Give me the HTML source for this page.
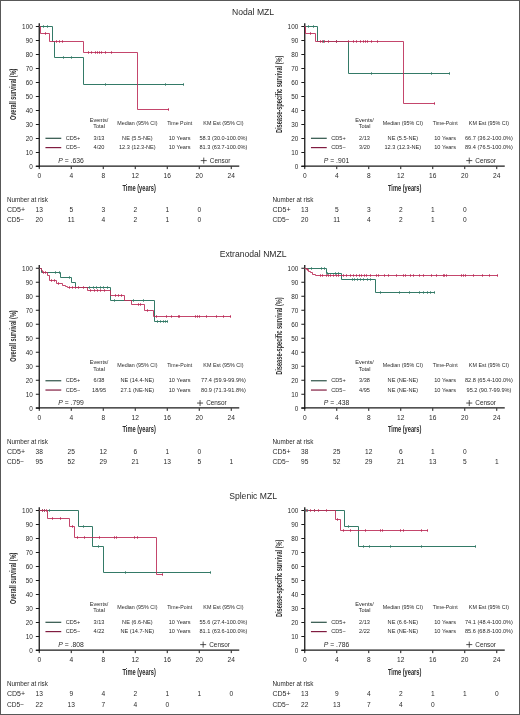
<!DOCTYPE html>
<html><head><meta charset="utf-8"><style>
html,body{margin:0;padding:0;background:#fff;}
body{width:520px;height:715px;overflow:hidden;position:relative;}
svg{display:block;font-family:"Liberation Sans", sans-serif;filter:blur(0.3px);}
</style></head><body>
<svg width="520" height="715" viewBox="0 0 520 715">
<rect x="0" y="0" width="520" height="715" fill="#fff"/>
<text x="253.10" y="15.40" font-size="8.6" text-anchor="middle" fill="#2a2a2a" >Nodal MZL</text>
<line x1="39.25" y1="23.20" x2="39.25" y2="167.15" stroke="#1a1a1a" stroke-width="1.3"/>
<line x1="35.85" y1="166.50" x2="39.25" y2="166.50" stroke="#1a1a1a" stroke-width="1"/>
<text x="32.75" y="169.00" font-size="6.4" text-anchor="end" fill="#2a2a2a" >0</text>
<line x1="35.85" y1="152.50" x2="39.25" y2="152.50" stroke="#1a1a1a" stroke-width="1"/>
<text x="32.75" y="155.00" font-size="6.4" text-anchor="end" fill="#2a2a2a" >10</text>
<line x1="35.85" y1="138.50" x2="39.25" y2="138.50" stroke="#1a1a1a" stroke-width="1"/>
<text x="32.75" y="141.00" font-size="6.4" text-anchor="end" fill="#2a2a2a" >20</text>
<line x1="35.85" y1="124.50" x2="39.25" y2="124.50" stroke="#1a1a1a" stroke-width="1"/>
<text x="32.75" y="127.00" font-size="6.4" text-anchor="end" fill="#2a2a2a" >30</text>
<line x1="35.85" y1="110.50" x2="39.25" y2="110.50" stroke="#1a1a1a" stroke-width="1"/>
<text x="32.75" y="113.00" font-size="6.4" text-anchor="end" fill="#2a2a2a" >40</text>
<line x1="35.85" y1="96.50" x2="39.25" y2="96.50" stroke="#1a1a1a" stroke-width="1"/>
<text x="32.75" y="99.00" font-size="6.4" text-anchor="end" fill="#2a2a2a" >50</text>
<line x1="35.85" y1="82.50" x2="39.25" y2="82.50" stroke="#1a1a1a" stroke-width="1"/>
<text x="32.75" y="85.00" font-size="6.4" text-anchor="end" fill="#2a2a2a" >60</text>
<line x1="35.85" y1="68.50" x2="39.25" y2="68.50" stroke="#1a1a1a" stroke-width="1"/>
<text x="32.75" y="71.00" font-size="6.4" text-anchor="end" fill="#2a2a2a" >70</text>
<line x1="35.85" y1="54.50" x2="39.25" y2="54.50" stroke="#1a1a1a" stroke-width="1"/>
<text x="32.75" y="57.00" font-size="6.4" text-anchor="end" fill="#2a2a2a" >80</text>
<line x1="35.85" y1="40.50" x2="39.25" y2="40.50" stroke="#1a1a1a" stroke-width="1"/>
<text x="32.75" y="43.00" font-size="6.4" text-anchor="end" fill="#2a2a2a" >90</text>
<line x1="35.85" y1="26.50" x2="39.25" y2="26.50" stroke="#1a1a1a" stroke-width="1"/>
<text x="32.75" y="29.00" font-size="6.4" text-anchor="end" fill="#2a2a2a" >100</text>
<line x1="35.85" y1="166.15" x2="239.25" y2="166.15" stroke="#1a1a1a" stroke-width="1.3"/>
<line x1="39.25" y1="166.50" x2="39.25" y2="169.10" stroke="#1a1a1a" stroke-width="1"/>
<text x="39.25" y="178.10" font-size="6.6" text-anchor="middle" fill="#2a2a2a" >0</text>
<line x1="71.25" y1="166.50" x2="71.25" y2="169.10" stroke="#1a1a1a" stroke-width="1"/>
<text x="71.25" y="178.10" font-size="6.6" text-anchor="middle" fill="#2a2a2a" >4</text>
<line x1="103.25" y1="166.50" x2="103.25" y2="169.10" stroke="#1a1a1a" stroke-width="1"/>
<text x="103.25" y="178.10" font-size="6.6" text-anchor="middle" fill="#2a2a2a" >8</text>
<line x1="135.25" y1="166.50" x2="135.25" y2="169.10" stroke="#1a1a1a" stroke-width="1"/>
<text x="135.25" y="178.10" font-size="6.6" text-anchor="middle" fill="#2a2a2a" >12</text>
<line x1="167.25" y1="166.50" x2="167.25" y2="169.10" stroke="#1a1a1a" stroke-width="1"/>
<text x="167.25" y="178.10" font-size="6.6" text-anchor="middle" fill="#2a2a2a" >16</text>
<line x1="199.25" y1="166.50" x2="199.25" y2="169.10" stroke="#1a1a1a" stroke-width="1"/>
<text x="199.25" y="178.10" font-size="6.6" text-anchor="middle" fill="#2a2a2a" >20</text>
<line x1="231.25" y1="166.50" x2="231.25" y2="169.10" stroke="#1a1a1a" stroke-width="1"/>
<text x="231.25" y="178.10" font-size="6.6" text-anchor="middle" fill="#2a2a2a" >24</text>
<text x="139.15" y="190.50" font-size="9.4" text-anchor="middle" fill="#2a2a2a" textLength="33.4" lengthAdjust="spacingAndGlyphs" font-weight="bold">Time (years)</text>
<text x="16.45" y="94.30" font-size="8.4" text-anchor="middle" fill="#2a2a2a" textLength="51.5" lengthAdjust="spacingAndGlyphs" font-weight="bold" transform="rotate(-90 16.45 94.30)">Overall survival (%)</text>
<path d="M39.50,26.50 L52.50,26.50 L52.50,41.50 L54.50,41.50 L54.50,57.50 L83.50,57.50 L83.50,84.50 L183.50,84.50" fill="none" stroke="#347a67" stroke-width="1.0" stroke-linejoin="miter" stroke-linecap="butt" />
<path d="M39.50,26.50 L40.50,26.50 L40.50,33.50 L49.50,33.50 L49.50,41.50 L83.50,41.50 L83.50,52.50 L137.50,52.50 L137.50,109.50 L168.50,109.50" fill="none" stroke="#bc2c58" stroke-width="1.0" stroke-linejoin="miter" stroke-linecap="butt" stroke-opacity="0.88"/>
<path d="M43.50,25.35V27.65M47.50,25.35V27.65" stroke="#347a67" stroke-width="1.0" fill="none"/>
<path d="M63.50,56.35V58.65M71.50,56.35V58.65" stroke="#347a67" stroke-width="1.0" fill="none"/>
<path d="M105.50,83.35V85.65M165.50,83.35V85.65M183.50,83.35V85.65" stroke="#347a67" stroke-width="1.0" fill="none"/>
<path d="M45.50,32.35V34.65" stroke="#bc2c58" stroke-width="1.0" fill="none"/>
<path d="M56.50,40.35V42.65M59.50,40.35V42.65M62.50,40.35V42.65" stroke="#bc2c58" stroke-width="1.0" fill="none"/>
<path d="M88.50,51.35V53.65M91.50,51.35V53.65M95.50,51.35V53.65M97.50,51.35V53.65M99.50,51.35V53.65M101.50,51.35V53.65M105.50,51.35V53.65M111.50,51.35V53.65" stroke="#bc2c58" stroke-width="1.0" fill="none"/>
<path d="M168.50,108.35V110.65" stroke="#bc2c58" stroke-width="1.0" fill="none"/>
<text x="99.05" y="121.50" font-size="5.6" text-anchor="middle" fill="#2a2a2a" >Events/</text>
<text x="99.05" y="128.40" font-size="5.6" text-anchor="middle" fill="#2a2a2a" >Total</text>
<text x="137.35" y="124.50" font-size="5.6" text-anchor="middle" fill="#2a2a2a" textLength="40.2" lengthAdjust="spacingAndGlyphs" >Median (95% CI)</text>
<text x="179.65" y="124.50" font-size="5.6" text-anchor="middle" fill="#2a2a2a" textLength="25" lengthAdjust="spacingAndGlyphs" >Time Point</text>
<text x="223.45" y="124.50" font-size="5.6" text-anchor="middle" fill="#2a2a2a" textLength="40.2" lengthAdjust="spacingAndGlyphs" >KM Est (95% CI)</text>
<line x1="45.45" y1="138.30" x2="61.25" y2="138.30" stroke="#2c5247" stroke-width="1.2"/>
<text x="65.75" y="139.80" font-size="5.6" text-anchor="start" fill="#2a2a2a" >CD5+</text>
<text x="99.05" y="139.80" font-size="5.6" text-anchor="middle" fill="#2a2a2a" >3/13</text>
<text x="137.35" y="139.80" font-size="5.6" text-anchor="middle" fill="#2a2a2a" >NE (5.5-NE)</text>
<text x="179.65" y="139.80" font-size="5.6" text-anchor="middle" fill="#2a2a2a" >10 Years</text>
<text x="223.45" y="139.80" font-size="5.6" text-anchor="middle" fill="#2a2a2a" >58.3 (30.0-100.0%)</text>
<line x1="45.45" y1="147.60" x2="61.25" y2="147.60" stroke="#801c40" stroke-width="1.2"/>
<text x="65.75" y="149.20" font-size="5.6" text-anchor="start" fill="#2a2a2a" >CD5−</text>
<text x="99.05" y="149.20" font-size="5.6" text-anchor="middle" fill="#2a2a2a" >4/20</text>
<text x="137.35" y="149.20" font-size="5.6" text-anchor="middle" fill="#2a2a2a" >12.3 (12.3-NE)</text>
<text x="179.65" y="149.20" font-size="5.6" text-anchor="middle" fill="#2a2a2a" >10 Years</text>
<text x="223.45" y="149.20" font-size="5.6" text-anchor="middle" fill="#2a2a2a" >81.3 (63.7-100.0%)</text>
<text x="58.25" y="162.80" font-size="6.8" fill="#2a2a2a"><tspan font-style="italic">P</tspan> = .636</text>
<line x1="200.75" y1="160.60" x2="206.75" y2="160.60" stroke="#2a2a2a" stroke-width="0.8"/>
<line x1="203.75" y1="157.60" x2="203.75" y2="163.60" stroke="#2a2a2a" stroke-width="0.8"/>
<text x="209.85" y="162.70" font-size="6.4" text-anchor="start" fill="#2a2a2a" >Censor</text>
<text x="6.95" y="201.50" font-size="6.3" text-anchor="start" fill="#2a2a2a" >Number at risk</text>
<text x="6.95" y="211.80" font-size="6.6" text-anchor="start" fill="#2a2a2a" textLength="18.2" lengthAdjust="spacingAndGlyphs" >CD5+</text>
<text x="6.95" y="222.20" font-size="6.6" text-anchor="start" fill="#2a2a2a" >CD5−</text>
<text x="39.25" y="211.80" font-size="6.6" text-anchor="middle" fill="#2a2a2a" >13</text>
<text x="71.25" y="211.80" font-size="6.6" text-anchor="middle" fill="#2a2a2a" >5</text>
<text x="103.25" y="211.80" font-size="6.6" text-anchor="middle" fill="#2a2a2a" >3</text>
<text x="135.25" y="211.80" font-size="6.6" text-anchor="middle" fill="#2a2a2a" >2</text>
<text x="167.25" y="211.80" font-size="6.6" text-anchor="middle" fill="#2a2a2a" >1</text>
<text x="199.25" y="211.80" font-size="6.6" text-anchor="middle" fill="#2a2a2a" >0</text>
<text x="39.25" y="222.20" font-size="6.6" text-anchor="middle" fill="#2a2a2a" >20</text>
<text x="71.25" y="222.20" font-size="6.6" text-anchor="middle" fill="#2a2a2a" >11</text>
<text x="103.25" y="222.20" font-size="6.6" text-anchor="middle" fill="#2a2a2a" >4</text>
<text x="135.25" y="222.20" font-size="6.6" text-anchor="middle" fill="#2a2a2a" >2</text>
<text x="167.25" y="222.20" font-size="6.6" text-anchor="middle" fill="#2a2a2a" >1</text>
<text x="199.25" y="222.20" font-size="6.6" text-anchor="middle" fill="#2a2a2a" >0</text>
<line x1="304.75" y1="23.20" x2="304.75" y2="167.15" stroke="#1a1a1a" stroke-width="1.3"/>
<line x1="301.35" y1="166.50" x2="304.75" y2="166.50" stroke="#1a1a1a" stroke-width="1"/>
<text x="298.25" y="169.00" font-size="6.4" text-anchor="end" fill="#2a2a2a" >0</text>
<line x1="301.35" y1="152.50" x2="304.75" y2="152.50" stroke="#1a1a1a" stroke-width="1"/>
<text x="298.25" y="155.00" font-size="6.4" text-anchor="end" fill="#2a2a2a" >10</text>
<line x1="301.35" y1="138.50" x2="304.75" y2="138.50" stroke="#1a1a1a" stroke-width="1"/>
<text x="298.25" y="141.00" font-size="6.4" text-anchor="end" fill="#2a2a2a" >20</text>
<line x1="301.35" y1="124.50" x2="304.75" y2="124.50" stroke="#1a1a1a" stroke-width="1"/>
<text x="298.25" y="127.00" font-size="6.4" text-anchor="end" fill="#2a2a2a" >30</text>
<line x1="301.35" y1="110.50" x2="304.75" y2="110.50" stroke="#1a1a1a" stroke-width="1"/>
<text x="298.25" y="113.00" font-size="6.4" text-anchor="end" fill="#2a2a2a" >40</text>
<line x1="301.35" y1="96.50" x2="304.75" y2="96.50" stroke="#1a1a1a" stroke-width="1"/>
<text x="298.25" y="99.00" font-size="6.4" text-anchor="end" fill="#2a2a2a" >50</text>
<line x1="301.35" y1="82.50" x2="304.75" y2="82.50" stroke="#1a1a1a" stroke-width="1"/>
<text x="298.25" y="85.00" font-size="6.4" text-anchor="end" fill="#2a2a2a" >60</text>
<line x1="301.35" y1="68.50" x2="304.75" y2="68.50" stroke="#1a1a1a" stroke-width="1"/>
<text x="298.25" y="71.00" font-size="6.4" text-anchor="end" fill="#2a2a2a" >70</text>
<line x1="301.35" y1="54.50" x2="304.75" y2="54.50" stroke="#1a1a1a" stroke-width="1"/>
<text x="298.25" y="57.00" font-size="6.4" text-anchor="end" fill="#2a2a2a" >80</text>
<line x1="301.35" y1="40.50" x2="304.75" y2="40.50" stroke="#1a1a1a" stroke-width="1"/>
<text x="298.25" y="43.00" font-size="6.4" text-anchor="end" fill="#2a2a2a" >90</text>
<line x1="301.35" y1="26.50" x2="304.75" y2="26.50" stroke="#1a1a1a" stroke-width="1"/>
<text x="298.25" y="29.00" font-size="6.4" text-anchor="end" fill="#2a2a2a" >100</text>
<line x1="301.35" y1="166.15" x2="504.75" y2="166.15" stroke="#1a1a1a" stroke-width="1.3"/>
<line x1="304.75" y1="166.50" x2="304.75" y2="169.10" stroke="#1a1a1a" stroke-width="1"/>
<text x="304.75" y="178.10" font-size="6.6" text-anchor="middle" fill="#2a2a2a" >0</text>
<line x1="336.75" y1="166.50" x2="336.75" y2="169.10" stroke="#1a1a1a" stroke-width="1"/>
<text x="336.75" y="178.10" font-size="6.6" text-anchor="middle" fill="#2a2a2a" >4</text>
<line x1="368.75" y1="166.50" x2="368.75" y2="169.10" stroke="#1a1a1a" stroke-width="1"/>
<text x="368.75" y="178.10" font-size="6.6" text-anchor="middle" fill="#2a2a2a" >8</text>
<line x1="400.75" y1="166.50" x2="400.75" y2="169.10" stroke="#1a1a1a" stroke-width="1"/>
<text x="400.75" y="178.10" font-size="6.6" text-anchor="middle" fill="#2a2a2a" >12</text>
<line x1="432.75" y1="166.50" x2="432.75" y2="169.10" stroke="#1a1a1a" stroke-width="1"/>
<text x="432.75" y="178.10" font-size="6.6" text-anchor="middle" fill="#2a2a2a" >16</text>
<line x1="464.75" y1="166.50" x2="464.75" y2="169.10" stroke="#1a1a1a" stroke-width="1"/>
<text x="464.75" y="178.10" font-size="6.6" text-anchor="middle" fill="#2a2a2a" >20</text>
<line x1="496.75" y1="166.50" x2="496.75" y2="169.10" stroke="#1a1a1a" stroke-width="1"/>
<text x="496.75" y="178.10" font-size="6.6" text-anchor="middle" fill="#2a2a2a" >24</text>
<text x="404.65" y="190.50" font-size="9.4" text-anchor="middle" fill="#2a2a2a" textLength="33.4" lengthAdjust="spacingAndGlyphs" font-weight="bold">Time (years)</text>
<text x="281.55" y="94.30" font-size="8.4" text-anchor="middle" fill="#2a2a2a" textLength="77.5" lengthAdjust="spacingAndGlyphs" font-weight="bold" transform="rotate(-90 281.55 94.30)">Disease-specific survival (%)</text>
<path d="M304.50,26.50 L317.50,26.50 L317.50,41.50 L348.50,41.50 L348.50,73.50 L449.50,73.50" fill="none" stroke="#347a67" stroke-width="1.0" stroke-linejoin="miter" stroke-linecap="butt" />
<path d="M304.50,26.50 L305.50,26.50 L305.50,33.50 L315.50,33.50 L315.50,41.50 L403.50,41.50 L403.50,103.50 L434.50,103.50" fill="none" stroke="#bc2c58" stroke-width="1.0" stroke-linejoin="miter" stroke-linecap="butt" stroke-opacity="0.88"/>
<path d="M308.50,25.35V27.65M313.50,25.35V27.65" stroke="#347a67" stroke-width="1.0" fill="none"/>
<path d="M323.50,40.35V42.65M336.50,40.35V42.65" stroke="#347a67" stroke-width="1.0" fill="none"/>
<path d="M371.50,72.35V74.65M431.50,72.35V74.65M449.50,72.35V74.65" stroke="#347a67" stroke-width="1.0" fill="none"/>
<path d="M310.50,32.35V34.65" stroke="#bc2c58" stroke-width="1.0" fill="none"/>
<path d="M320.50,40.35V42.65M322.50,40.35V42.65M324.50,40.35V42.65M328.50,40.35V42.65M336.50,40.35V42.65M348.50,40.35V42.65M353.50,40.35V42.65M356.50,40.35V42.65M360.50,40.35V42.65M363.50,40.35V42.65M365.50,40.35V42.65M367.50,40.35V42.65M371.50,40.35V42.65M377.50,40.35V42.65" stroke="#bc2c58" stroke-width="1.0" fill="none"/>
<path d="M434.50,102.35V104.65" stroke="#bc2c58" stroke-width="1.0" fill="none"/>
<text x="364.55" y="121.50" font-size="5.6" text-anchor="middle" fill="#2a2a2a" >Events/</text>
<text x="364.55" y="128.40" font-size="5.6" text-anchor="middle" fill="#2a2a2a" >Total</text>
<text x="402.85" y="124.50" font-size="5.6" text-anchor="middle" fill="#2a2a2a" textLength="40.2" lengthAdjust="spacingAndGlyphs" >Median (95% CI)</text>
<text x="445.15" y="124.50" font-size="5.6" text-anchor="middle" fill="#2a2a2a" textLength="25" lengthAdjust="spacingAndGlyphs" >Time-Point</text>
<text x="488.95" y="124.50" font-size="5.6" text-anchor="middle" fill="#2a2a2a" textLength="40.2" lengthAdjust="spacingAndGlyphs" >KM Est (95% CI)</text>
<line x1="310.95" y1="138.30" x2="326.75" y2="138.30" stroke="#2c5247" stroke-width="1.2"/>
<text x="331.25" y="139.80" font-size="5.6" text-anchor="start" fill="#2a2a2a" >CD5+</text>
<text x="364.55" y="139.80" font-size="5.6" text-anchor="middle" fill="#2a2a2a" >2/13</text>
<text x="402.85" y="139.80" font-size="5.6" text-anchor="middle" fill="#2a2a2a" >NE (5.5-NE)</text>
<text x="445.15" y="139.80" font-size="5.6" text-anchor="middle" fill="#2a2a2a" >10 Years</text>
<text x="488.95" y="139.80" font-size="5.6" text-anchor="middle" fill="#2a2a2a" >66.7 (36.2-100.0%)</text>
<line x1="310.95" y1="147.60" x2="326.75" y2="147.60" stroke="#801c40" stroke-width="1.2"/>
<text x="331.25" y="149.20" font-size="5.6" text-anchor="start" fill="#2a2a2a" >CD5−</text>
<text x="364.55" y="149.20" font-size="5.6" text-anchor="middle" fill="#2a2a2a" >3/20</text>
<text x="402.85" y="149.20" font-size="5.6" text-anchor="middle" fill="#2a2a2a" >12.3 (12.3-NE)</text>
<text x="445.15" y="149.20" font-size="5.6" text-anchor="middle" fill="#2a2a2a" >10 Years</text>
<text x="488.95" y="149.20" font-size="5.6" text-anchor="middle" fill="#2a2a2a" >89.4 (76.5-100.0%)</text>
<text x="323.75" y="162.80" font-size="6.8" fill="#2a2a2a"><tspan font-style="italic">P</tspan> = .901</text>
<line x1="466.25" y1="160.60" x2="472.25" y2="160.60" stroke="#2a2a2a" stroke-width="0.8"/>
<line x1="469.25" y1="157.60" x2="469.25" y2="163.60" stroke="#2a2a2a" stroke-width="0.8"/>
<text x="475.35" y="162.70" font-size="6.4" text-anchor="start" fill="#2a2a2a" >Censor</text>
<text x="272.45" y="201.50" font-size="6.3" text-anchor="start" fill="#2a2a2a" >Number at risk</text>
<text x="272.45" y="211.80" font-size="6.6" text-anchor="start" fill="#2a2a2a" textLength="18.2" lengthAdjust="spacingAndGlyphs" >CD5+</text>
<text x="272.45" y="222.20" font-size="6.6" text-anchor="start" fill="#2a2a2a" >CD5−</text>
<text x="304.75" y="211.80" font-size="6.6" text-anchor="middle" fill="#2a2a2a" >13</text>
<text x="336.75" y="211.80" font-size="6.6" text-anchor="middle" fill="#2a2a2a" >5</text>
<text x="368.75" y="211.80" font-size="6.6" text-anchor="middle" fill="#2a2a2a" >3</text>
<text x="400.75" y="211.80" font-size="6.6" text-anchor="middle" fill="#2a2a2a" >2</text>
<text x="432.75" y="211.80" font-size="6.6" text-anchor="middle" fill="#2a2a2a" >1</text>
<text x="464.75" y="211.80" font-size="6.6" text-anchor="middle" fill="#2a2a2a" >0</text>
<text x="304.75" y="222.20" font-size="6.6" text-anchor="middle" fill="#2a2a2a" >20</text>
<text x="336.75" y="222.20" font-size="6.6" text-anchor="middle" fill="#2a2a2a" >11</text>
<text x="368.75" y="222.20" font-size="6.6" text-anchor="middle" fill="#2a2a2a" >4</text>
<text x="400.75" y="222.20" font-size="6.6" text-anchor="middle" fill="#2a2a2a" >2</text>
<text x="432.75" y="222.20" font-size="6.6" text-anchor="middle" fill="#2a2a2a" >1</text>
<text x="464.75" y="222.20" font-size="6.6" text-anchor="middle" fill="#2a2a2a" >0</text>
<text x="253.10" y="257.15" font-size="8.6" text-anchor="middle" fill="#2a2a2a" >Extranodal NMZL</text>
<line x1="39.25" y1="264.95" x2="39.25" y2="408.90" stroke="#1a1a1a" stroke-width="1.3"/>
<line x1="35.85" y1="408.25" x2="39.25" y2="408.25" stroke="#1a1a1a" stroke-width="1"/>
<text x="32.75" y="410.75" font-size="6.4" text-anchor="end" fill="#2a2a2a" >0</text>
<line x1="35.85" y1="394.25" x2="39.25" y2="394.25" stroke="#1a1a1a" stroke-width="1"/>
<text x="32.75" y="396.75" font-size="6.4" text-anchor="end" fill="#2a2a2a" >10</text>
<line x1="35.85" y1="380.25" x2="39.25" y2="380.25" stroke="#1a1a1a" stroke-width="1"/>
<text x="32.75" y="382.75" font-size="6.4" text-anchor="end" fill="#2a2a2a" >20</text>
<line x1="35.85" y1="366.25" x2="39.25" y2="366.25" stroke="#1a1a1a" stroke-width="1"/>
<text x="32.75" y="368.75" font-size="6.4" text-anchor="end" fill="#2a2a2a" >30</text>
<line x1="35.85" y1="352.25" x2="39.25" y2="352.25" stroke="#1a1a1a" stroke-width="1"/>
<text x="32.75" y="354.75" font-size="6.4" text-anchor="end" fill="#2a2a2a" >40</text>
<line x1="35.85" y1="338.25" x2="39.25" y2="338.25" stroke="#1a1a1a" stroke-width="1"/>
<text x="32.75" y="340.75" font-size="6.4" text-anchor="end" fill="#2a2a2a" >50</text>
<line x1="35.85" y1="324.25" x2="39.25" y2="324.25" stroke="#1a1a1a" stroke-width="1"/>
<text x="32.75" y="326.75" font-size="6.4" text-anchor="end" fill="#2a2a2a" >60</text>
<line x1="35.85" y1="310.25" x2="39.25" y2="310.25" stroke="#1a1a1a" stroke-width="1"/>
<text x="32.75" y="312.75" font-size="6.4" text-anchor="end" fill="#2a2a2a" >70</text>
<line x1="35.85" y1="296.25" x2="39.25" y2="296.25" stroke="#1a1a1a" stroke-width="1"/>
<text x="32.75" y="298.75" font-size="6.4" text-anchor="end" fill="#2a2a2a" >80</text>
<line x1="35.85" y1="282.25" x2="39.25" y2="282.25" stroke="#1a1a1a" stroke-width="1"/>
<text x="32.75" y="284.75" font-size="6.4" text-anchor="end" fill="#2a2a2a" >90</text>
<line x1="35.85" y1="268.25" x2="39.25" y2="268.25" stroke="#1a1a1a" stroke-width="1"/>
<text x="32.75" y="270.75" font-size="6.4" text-anchor="end" fill="#2a2a2a" >100</text>
<line x1="35.85" y1="407.90" x2="239.25" y2="407.90" stroke="#1a1a1a" stroke-width="1.3"/>
<line x1="39.25" y1="408.25" x2="39.25" y2="410.85" stroke="#1a1a1a" stroke-width="1"/>
<text x="39.25" y="419.85" font-size="6.6" text-anchor="middle" fill="#2a2a2a" >0</text>
<line x1="71.25" y1="408.25" x2="71.25" y2="410.85" stroke="#1a1a1a" stroke-width="1"/>
<text x="71.25" y="419.85" font-size="6.6" text-anchor="middle" fill="#2a2a2a" >4</text>
<line x1="103.25" y1="408.25" x2="103.25" y2="410.85" stroke="#1a1a1a" stroke-width="1"/>
<text x="103.25" y="419.85" font-size="6.6" text-anchor="middle" fill="#2a2a2a" >8</text>
<line x1="135.25" y1="408.25" x2="135.25" y2="410.85" stroke="#1a1a1a" stroke-width="1"/>
<text x="135.25" y="419.85" font-size="6.6" text-anchor="middle" fill="#2a2a2a" >12</text>
<line x1="167.25" y1="408.25" x2="167.25" y2="410.85" stroke="#1a1a1a" stroke-width="1"/>
<text x="167.25" y="419.85" font-size="6.6" text-anchor="middle" fill="#2a2a2a" >16</text>
<line x1="199.25" y1="408.25" x2="199.25" y2="410.85" stroke="#1a1a1a" stroke-width="1"/>
<text x="199.25" y="419.85" font-size="6.6" text-anchor="middle" fill="#2a2a2a" >20</text>
<line x1="231.25" y1="408.25" x2="231.25" y2="410.85" stroke="#1a1a1a" stroke-width="1"/>
<text x="231.25" y="419.85" font-size="6.6" text-anchor="middle" fill="#2a2a2a" >24</text>
<text x="139.15" y="432.25" font-size="9.4" text-anchor="middle" fill="#2a2a2a" textLength="33.4" lengthAdjust="spacingAndGlyphs" font-weight="bold">Time (years)</text>
<text x="16.45" y="336.05" font-size="8.4" text-anchor="middle" fill="#2a2a2a" textLength="51.5" lengthAdjust="spacingAndGlyphs" font-weight="bold" transform="rotate(-90 16.45 336.05)">Overall survival (%)</text>
<path d="M39.50,268.50 L41.50,268.50 L41.50,272.50 L60.50,272.50 L60.50,277.50 L71.50,277.50 L71.50,282.50 L75.50,282.50 L75.50,287.50 L110.50,287.50 L110.50,300.50 L154.50,300.50 L154.50,321.50 L167.50,321.50" fill="none" stroke="#347a67" stroke-width="1.0" stroke-linejoin="miter" stroke-linecap="butt" />
<path d="M39.50,268.50 L41.50,268.50 L41.50,270.50 L42.50,270.50 L42.50,272.50 L47.50,272.50 L47.50,275.50 L49.50,275.50 L49.50,280.50 L56.50,280.50 L56.50,283.50 L62.50,283.50 L62.50,285.50 L65.50,285.50 L65.50,286.50 L67.50,286.50 L67.50,287.50 L87.50,287.50 L87.50,290.50 L110.50,290.50 L110.50,295.50 L124.50,295.50 L124.50,300.50 L131.50,300.50 L131.50,304.50 L144.50,304.50 L144.50,310.50 L153.50,310.50 L153.50,316.50 L230.50,316.50" fill="none" stroke="#bc2c58" stroke-width="1.0" stroke-linejoin="miter" stroke-linecap="butt" stroke-opacity="0.88"/>
<path d="M55.50,271.35V273.65M59.50,271.35V273.65" stroke="#347a67" stroke-width="1.0" fill="none"/>
<path d="M69.50,276.35V278.65" stroke="#347a67" stroke-width="1.0" fill="none"/>
<path d="M89.50,286.35V288.65M93.50,286.35V288.65M96.50,286.35V288.65M100.50,286.35V288.65M103.50,286.35V288.65M107.50,286.35V288.65" stroke="#347a67" stroke-width="1.0" fill="none"/>
<path d="M114.50,299.35V301.65M133.50,299.35V301.65M143.50,299.35V301.65" stroke="#347a67" stroke-width="1.0" fill="none"/>
<path d="M157.50,320.35V322.65M160.50,320.35V322.65M163.50,320.35V322.65M165.50,320.35V322.65M167.50,320.35V322.65" stroke="#347a67" stroke-width="1.0" fill="none"/>
<path d="M43.50,271.35V273.65M45.50,271.35V273.65" stroke="#bc2c58" stroke-width="1.0" fill="none"/>
<path d="M51.50,279.35V281.65M54.50,279.35V281.65" stroke="#bc2c58" stroke-width="1.0" fill="none"/>
<path d="M58.50,282.35V284.65" stroke="#bc2c58" stroke-width="1.0" fill="none"/>
<path d="M69.50,286.35V288.65M72.50,286.35V288.65M75.50,286.35V288.65M78.50,286.35V288.65M83.50,286.35V288.65" stroke="#bc2c58" stroke-width="1.0" fill="none"/>
<path d="M90.50,289.35V291.65M94.50,289.35V291.65M97.50,289.35V291.65M100.50,289.35V291.65M104.50,289.35V291.65" stroke="#bc2c58" stroke-width="1.0" fill="none"/>
<path d="M115.50,294.35V296.65M118.50,294.35V296.65M121.50,294.35V296.65" stroke="#bc2c58" stroke-width="1.0" fill="none"/>
<path d="M138.50,303.35V305.65M140.50,303.35V305.65" stroke="#bc2c58" stroke-width="1.0" fill="none"/>
<path d="M147.50,309.35V311.65" stroke="#bc2c58" stroke-width="1.0" fill="none"/>
<path d="M156.50,315.35V317.65M166.50,315.35V317.65M171.50,315.35V317.65M178.50,315.35V317.65M179.50,315.35V317.65M195.50,315.35V317.65M197.50,315.35V317.65M199.50,315.35V317.65M206.50,315.35V317.65M216.50,315.35V317.65M223.50,315.35V317.65M230.50,315.35V317.65" stroke="#bc2c58" stroke-width="1.0" fill="none"/>
<text x="99.05" y="363.95" font-size="5.6" text-anchor="middle" fill="#2a2a2a" >Events/</text>
<text x="99.05" y="370.85" font-size="5.6" text-anchor="middle" fill="#2a2a2a" >Total</text>
<text x="137.35" y="366.95" font-size="5.6" text-anchor="middle" fill="#2a2a2a" textLength="40.2" lengthAdjust="spacingAndGlyphs" >Median (95% CI)</text>
<text x="179.65" y="366.95" font-size="5.6" text-anchor="middle" fill="#2a2a2a" textLength="25" lengthAdjust="spacingAndGlyphs" >Time-Point</text>
<text x="223.45" y="366.95" font-size="5.6" text-anchor="middle" fill="#2a2a2a" textLength="40.2" lengthAdjust="spacingAndGlyphs" >KM Est (95% CI)</text>
<line x1="45.45" y1="380.75" x2="61.25" y2="380.75" stroke="#2c5247" stroke-width="1.2"/>
<text x="65.75" y="382.25" font-size="5.6" text-anchor="start" fill="#2a2a2a" >CD5+</text>
<text x="99.05" y="382.25" font-size="5.6" text-anchor="middle" fill="#2a2a2a" >6/38</text>
<text x="137.35" y="382.25" font-size="5.6" text-anchor="middle" fill="#2a2a2a" >NE (14.4-NE)</text>
<text x="179.65" y="382.25" font-size="5.6" text-anchor="middle" fill="#2a2a2a" >10 Years</text>
<text x="223.45" y="382.25" font-size="5.6" text-anchor="middle" fill="#2a2a2a" >77.4 (59.9-99.9%)</text>
<line x1="45.45" y1="390.05" x2="61.25" y2="390.05" stroke="#801c40" stroke-width="1.2"/>
<text x="65.75" y="391.65" font-size="5.6" text-anchor="start" fill="#2a2a2a" >CD5−</text>
<text x="99.05" y="391.65" font-size="5.6" text-anchor="middle" fill="#2a2a2a" >18/95</text>
<text x="137.35" y="391.65" font-size="5.6" text-anchor="middle" fill="#2a2a2a" >27.1 (NE-NE)</text>
<text x="179.65" y="391.65" font-size="5.6" text-anchor="middle" fill="#2a2a2a" >10 Years</text>
<text x="223.45" y="391.65" font-size="5.6" text-anchor="middle" fill="#2a2a2a" >80.9 (71.3-91.8%)</text>
<text x="58.25" y="405.25" font-size="6.8" fill="#2a2a2a"><tspan font-style="italic">P</tspan> = .799</text>
<line x1="197.05" y1="403.05" x2="203.05" y2="403.05" stroke="#2a2a2a" stroke-width="0.8"/>
<line x1="200.05" y1="400.05" x2="200.05" y2="406.05" stroke="#2a2a2a" stroke-width="0.8"/>
<text x="206.15" y="405.15" font-size="6.4" text-anchor="start" fill="#2a2a2a" >Censor</text>
<text x="6.95" y="443.75" font-size="6.3" text-anchor="start" fill="#2a2a2a" >Number at risk</text>
<text x="6.95" y="454.05" font-size="6.6" text-anchor="start" fill="#2a2a2a" textLength="18.2" lengthAdjust="spacingAndGlyphs" >CD5+</text>
<text x="6.95" y="464.45" font-size="6.6" text-anchor="start" fill="#2a2a2a" >CD5−</text>
<text x="39.25" y="454.05" font-size="6.6" text-anchor="middle" fill="#2a2a2a" >38</text>
<text x="71.25" y="454.05" font-size="6.6" text-anchor="middle" fill="#2a2a2a" >25</text>
<text x="103.25" y="454.05" font-size="6.6" text-anchor="middle" fill="#2a2a2a" >12</text>
<text x="135.25" y="454.05" font-size="6.6" text-anchor="middle" fill="#2a2a2a" >6</text>
<text x="167.25" y="454.05" font-size="6.6" text-anchor="middle" fill="#2a2a2a" >1</text>
<text x="199.25" y="454.05" font-size="6.6" text-anchor="middle" fill="#2a2a2a" >0</text>
<text x="39.25" y="464.45" font-size="6.6" text-anchor="middle" fill="#2a2a2a" >95</text>
<text x="71.25" y="464.45" font-size="6.6" text-anchor="middle" fill="#2a2a2a" >52</text>
<text x="103.25" y="464.45" font-size="6.6" text-anchor="middle" fill="#2a2a2a" >29</text>
<text x="135.25" y="464.45" font-size="6.6" text-anchor="middle" fill="#2a2a2a" >21</text>
<text x="167.25" y="464.45" font-size="6.6" text-anchor="middle" fill="#2a2a2a" >13</text>
<text x="199.25" y="464.45" font-size="6.6" text-anchor="middle" fill="#2a2a2a" >5</text>
<text x="231.25" y="464.45" font-size="6.6" text-anchor="middle" fill="#2a2a2a" >1</text>
<line x1="304.75" y1="264.95" x2="304.75" y2="408.90" stroke="#1a1a1a" stroke-width="1.3"/>
<line x1="301.35" y1="408.25" x2="304.75" y2="408.25" stroke="#1a1a1a" stroke-width="1"/>
<text x="298.25" y="410.75" font-size="6.4" text-anchor="end" fill="#2a2a2a" >0</text>
<line x1="301.35" y1="394.25" x2="304.75" y2="394.25" stroke="#1a1a1a" stroke-width="1"/>
<text x="298.25" y="396.75" font-size="6.4" text-anchor="end" fill="#2a2a2a" >10</text>
<line x1="301.35" y1="380.25" x2="304.75" y2="380.25" stroke="#1a1a1a" stroke-width="1"/>
<text x="298.25" y="382.75" font-size="6.4" text-anchor="end" fill="#2a2a2a" >20</text>
<line x1="301.35" y1="366.25" x2="304.75" y2="366.25" stroke="#1a1a1a" stroke-width="1"/>
<text x="298.25" y="368.75" font-size="6.4" text-anchor="end" fill="#2a2a2a" >30</text>
<line x1="301.35" y1="352.25" x2="304.75" y2="352.25" stroke="#1a1a1a" stroke-width="1"/>
<text x="298.25" y="354.75" font-size="6.4" text-anchor="end" fill="#2a2a2a" >40</text>
<line x1="301.35" y1="338.25" x2="304.75" y2="338.25" stroke="#1a1a1a" stroke-width="1"/>
<text x="298.25" y="340.75" font-size="6.4" text-anchor="end" fill="#2a2a2a" >50</text>
<line x1="301.35" y1="324.25" x2="304.75" y2="324.25" stroke="#1a1a1a" stroke-width="1"/>
<text x="298.25" y="326.75" font-size="6.4" text-anchor="end" fill="#2a2a2a" >60</text>
<line x1="301.35" y1="310.25" x2="304.75" y2="310.25" stroke="#1a1a1a" stroke-width="1"/>
<text x="298.25" y="312.75" font-size="6.4" text-anchor="end" fill="#2a2a2a" >70</text>
<line x1="301.35" y1="296.25" x2="304.75" y2="296.25" stroke="#1a1a1a" stroke-width="1"/>
<text x="298.25" y="298.75" font-size="6.4" text-anchor="end" fill="#2a2a2a" >80</text>
<line x1="301.35" y1="282.25" x2="304.75" y2="282.25" stroke="#1a1a1a" stroke-width="1"/>
<text x="298.25" y="284.75" font-size="6.4" text-anchor="end" fill="#2a2a2a" >90</text>
<line x1="301.35" y1="268.25" x2="304.75" y2="268.25" stroke="#1a1a1a" stroke-width="1"/>
<text x="298.25" y="270.75" font-size="6.4" text-anchor="end" fill="#2a2a2a" >100</text>
<line x1="301.35" y1="407.90" x2="504.75" y2="407.90" stroke="#1a1a1a" stroke-width="1.3"/>
<line x1="304.75" y1="408.25" x2="304.75" y2="410.85" stroke="#1a1a1a" stroke-width="1"/>
<text x="304.75" y="419.85" font-size="6.6" text-anchor="middle" fill="#2a2a2a" >0</text>
<line x1="336.75" y1="408.25" x2="336.75" y2="410.85" stroke="#1a1a1a" stroke-width="1"/>
<text x="336.75" y="419.85" font-size="6.6" text-anchor="middle" fill="#2a2a2a" >4</text>
<line x1="368.75" y1="408.25" x2="368.75" y2="410.85" stroke="#1a1a1a" stroke-width="1"/>
<text x="368.75" y="419.85" font-size="6.6" text-anchor="middle" fill="#2a2a2a" >8</text>
<line x1="400.75" y1="408.25" x2="400.75" y2="410.85" stroke="#1a1a1a" stroke-width="1"/>
<text x="400.75" y="419.85" font-size="6.6" text-anchor="middle" fill="#2a2a2a" >12</text>
<line x1="432.75" y1="408.25" x2="432.75" y2="410.85" stroke="#1a1a1a" stroke-width="1"/>
<text x="432.75" y="419.85" font-size="6.6" text-anchor="middle" fill="#2a2a2a" >16</text>
<line x1="464.75" y1="408.25" x2="464.75" y2="410.85" stroke="#1a1a1a" stroke-width="1"/>
<text x="464.75" y="419.85" font-size="6.6" text-anchor="middle" fill="#2a2a2a" >20</text>
<line x1="496.75" y1="408.25" x2="496.75" y2="410.85" stroke="#1a1a1a" stroke-width="1"/>
<text x="496.75" y="419.85" font-size="6.6" text-anchor="middle" fill="#2a2a2a" >24</text>
<text x="404.65" y="432.25" font-size="9.4" text-anchor="middle" fill="#2a2a2a" textLength="33.4" lengthAdjust="spacingAndGlyphs" font-weight="bold">Time (years)</text>
<text x="281.55" y="336.05" font-size="8.4" text-anchor="middle" fill="#2a2a2a" textLength="77.5" lengthAdjust="spacingAndGlyphs" font-weight="bold" transform="rotate(-90 281.55 336.05)">Disease-specific survival (%)</text>
<path d="M304.50,268.50 L326.50,268.50 L326.50,273.50 L341.50,273.50 L341.50,279.50 L375.50,279.50 L375.50,292.50 L434.50,292.50" fill="none" stroke="#347a67" stroke-width="1.0" stroke-linejoin="miter" stroke-linecap="butt" />
<path d="M304.50,268.50 L306.50,268.50 L306.50,269.50 L308.50,269.50 L308.50,271.50 L310.50,271.50 L310.50,272.50 L312.50,272.50 L312.50,274.50 L315.50,274.50 L315.50,275.50 L497.50,275.50" fill="none" stroke="#bc2c58" stroke-width="1.0" stroke-linejoin="miter" stroke-linecap="butt" stroke-opacity="0.88"/>
<path d="M311.50,267.35V269.65M321.50,267.35V269.65M324.50,267.35V269.65" stroke="#347a67" stroke-width="1.0" fill="none"/>
<path d="M327.50,272.35V274.65M335.50,272.35V274.65M338.50,272.35V274.65" stroke="#347a67" stroke-width="1.0" fill="none"/>
<path d="M352.50,278.35V280.65M354.50,278.35V280.65M357.50,278.35V280.65M360.50,278.35V280.65M363.50,278.35V280.65M367.50,278.35V280.65M370.50,278.35V280.65" stroke="#347a67" stroke-width="1.0" fill="none"/>
<path d="M380.50,291.35V293.65M399.50,291.35V293.65M409.50,291.35V293.65M419.50,291.35V293.65M423.50,291.35V293.65M427.50,291.35V293.65M430.50,291.35V293.65M434.50,291.35V293.65" stroke="#347a67" stroke-width="1.0" fill="none"/>
<path d="M307.50,268.35V270.65" stroke="#bc2c58" stroke-width="1.0" fill="none"/>
<path d="M320.50,274.35V276.65M322.50,274.35V276.65M326.50,274.35V276.65M328.50,274.35V276.65M330.50,274.35V276.65M333.50,274.35V276.65M336.50,274.35V276.65M338.50,274.35V276.65M343.50,274.35V276.65M346.50,274.35V276.65M350.50,274.35V276.65M353.50,274.35V276.65M356.50,274.35V276.65M359.50,274.35V276.65M361.50,274.35V276.65M364.50,274.35V276.65M366.50,274.35V276.65M370.50,274.35V276.65M376.50,274.35V276.65M378.50,274.35V276.65M384.50,274.35V276.65M388.50,274.35V276.65M396.50,274.35V276.65M403.50,274.35V276.65M405.50,274.35V276.65M410.50,274.35V276.65M413.50,274.35V276.65M419.50,274.35V276.65M423.50,274.35V276.65M431.50,274.35V276.65M436.50,274.35V276.65M443.50,274.35V276.65M444.50,274.35V276.65M446.50,274.35V276.65M461.50,274.35V276.65M463.50,274.35V276.65M465.50,274.35V276.65M473.50,274.35V276.65M482.50,274.35V276.65M489.50,274.35V276.65M497.50,274.35V276.65" stroke="#bc2c58" stroke-width="1.0" fill="none"/>
<text x="364.55" y="363.95" font-size="5.6" text-anchor="middle" fill="#2a2a2a" >Events/</text>
<text x="364.55" y="370.85" font-size="5.6" text-anchor="middle" fill="#2a2a2a" >Total</text>
<text x="402.85" y="366.95" font-size="5.6" text-anchor="middle" fill="#2a2a2a" textLength="40.2" lengthAdjust="spacingAndGlyphs" >Median (95% CI)</text>
<text x="445.15" y="366.95" font-size="5.6" text-anchor="middle" fill="#2a2a2a" textLength="25" lengthAdjust="spacingAndGlyphs" >Time-Point</text>
<text x="488.95" y="366.95" font-size="5.6" text-anchor="middle" fill="#2a2a2a" textLength="40.2" lengthAdjust="spacingAndGlyphs" >KM Est (95% CI)</text>
<line x1="310.95" y1="380.75" x2="326.75" y2="380.75" stroke="#2c5247" stroke-width="1.2"/>
<text x="331.25" y="382.25" font-size="5.6" text-anchor="start" fill="#2a2a2a" >CD5+</text>
<text x="364.55" y="382.25" font-size="5.6" text-anchor="middle" fill="#2a2a2a" >3/38</text>
<text x="402.85" y="382.25" font-size="5.6" text-anchor="middle" fill="#2a2a2a" >NE (NE-NE)</text>
<text x="445.15" y="382.25" font-size="5.6" text-anchor="middle" fill="#2a2a2a" >10 Years</text>
<text x="488.95" y="382.25" font-size="5.6" text-anchor="middle" fill="#2a2a2a" >82.8 (65.4-100.0%)</text>
<line x1="310.95" y1="390.05" x2="326.75" y2="390.05" stroke="#801c40" stroke-width="1.2"/>
<text x="331.25" y="391.65" font-size="5.6" text-anchor="start" fill="#2a2a2a" >CD5−</text>
<text x="364.55" y="391.65" font-size="5.6" text-anchor="middle" fill="#2a2a2a" >4/95</text>
<text x="402.85" y="391.65" font-size="5.6" text-anchor="middle" fill="#2a2a2a" >NE (NE-NE)</text>
<text x="445.15" y="391.65" font-size="5.6" text-anchor="middle" fill="#2a2a2a" >10 Years</text>
<text x="488.95" y="391.65" font-size="5.6" text-anchor="middle" fill="#2a2a2a" >95.2 (90.7-99.9%)</text>
<text x="323.75" y="405.25" font-size="6.8" fill="#2a2a2a"><tspan font-style="italic">P</tspan> = .438</text>
<line x1="466.25" y1="403.05" x2="472.25" y2="403.05" stroke="#2a2a2a" stroke-width="0.8"/>
<line x1="469.25" y1="400.05" x2="469.25" y2="406.05" stroke="#2a2a2a" stroke-width="0.8"/>
<text x="475.35" y="405.15" font-size="6.4" text-anchor="start" fill="#2a2a2a" >Censor</text>
<text x="272.45" y="443.75" font-size="6.3" text-anchor="start" fill="#2a2a2a" >Number at risk</text>
<text x="272.45" y="454.05" font-size="6.6" text-anchor="start" fill="#2a2a2a" textLength="18.2" lengthAdjust="spacingAndGlyphs" >CD5+</text>
<text x="272.45" y="464.45" font-size="6.6" text-anchor="start" fill="#2a2a2a" >CD5−</text>
<text x="304.75" y="454.05" font-size="6.6" text-anchor="middle" fill="#2a2a2a" >38</text>
<text x="336.75" y="454.05" font-size="6.6" text-anchor="middle" fill="#2a2a2a" >25</text>
<text x="368.75" y="454.05" font-size="6.6" text-anchor="middle" fill="#2a2a2a" >12</text>
<text x="400.75" y="454.05" font-size="6.6" text-anchor="middle" fill="#2a2a2a" >6</text>
<text x="432.75" y="454.05" font-size="6.6" text-anchor="middle" fill="#2a2a2a" >1</text>
<text x="464.75" y="454.05" font-size="6.6" text-anchor="middle" fill="#2a2a2a" >0</text>
<text x="304.75" y="464.45" font-size="6.6" text-anchor="middle" fill="#2a2a2a" >95</text>
<text x="336.75" y="464.45" font-size="6.6" text-anchor="middle" fill="#2a2a2a" >52</text>
<text x="368.75" y="464.45" font-size="6.6" text-anchor="middle" fill="#2a2a2a" >29</text>
<text x="400.75" y="464.45" font-size="6.6" text-anchor="middle" fill="#2a2a2a" >21</text>
<text x="432.75" y="464.45" font-size="6.6" text-anchor="middle" fill="#2a2a2a" >13</text>
<text x="464.75" y="464.45" font-size="6.6" text-anchor="middle" fill="#2a2a2a" >5</text>
<text x="496.75" y="464.45" font-size="6.6" text-anchor="middle" fill="#2a2a2a" >1</text>
<text x="253.10" y="499.40" font-size="8.6" text-anchor="middle" fill="#2a2a2a" >Splenic MZL</text>
<line x1="39.25" y1="507.20" x2="39.25" y2="651.15" stroke="#1a1a1a" stroke-width="1.3"/>
<line x1="35.85" y1="650.50" x2="39.25" y2="650.50" stroke="#1a1a1a" stroke-width="1"/>
<text x="32.75" y="653.00" font-size="6.4" text-anchor="end" fill="#2a2a2a" >0</text>
<line x1="35.85" y1="636.50" x2="39.25" y2="636.50" stroke="#1a1a1a" stroke-width="1"/>
<text x="32.75" y="639.00" font-size="6.4" text-anchor="end" fill="#2a2a2a" >10</text>
<line x1="35.85" y1="622.50" x2="39.25" y2="622.50" stroke="#1a1a1a" stroke-width="1"/>
<text x="32.75" y="625.00" font-size="6.4" text-anchor="end" fill="#2a2a2a" >20</text>
<line x1="35.85" y1="608.50" x2="39.25" y2="608.50" stroke="#1a1a1a" stroke-width="1"/>
<text x="32.75" y="611.00" font-size="6.4" text-anchor="end" fill="#2a2a2a" >30</text>
<line x1="35.85" y1="594.50" x2="39.25" y2="594.50" stroke="#1a1a1a" stroke-width="1"/>
<text x="32.75" y="597.00" font-size="6.4" text-anchor="end" fill="#2a2a2a" >40</text>
<line x1="35.85" y1="580.50" x2="39.25" y2="580.50" stroke="#1a1a1a" stroke-width="1"/>
<text x="32.75" y="583.00" font-size="6.4" text-anchor="end" fill="#2a2a2a" >50</text>
<line x1="35.85" y1="566.50" x2="39.25" y2="566.50" stroke="#1a1a1a" stroke-width="1"/>
<text x="32.75" y="569.00" font-size="6.4" text-anchor="end" fill="#2a2a2a" >60</text>
<line x1="35.85" y1="552.50" x2="39.25" y2="552.50" stroke="#1a1a1a" stroke-width="1"/>
<text x="32.75" y="555.00" font-size="6.4" text-anchor="end" fill="#2a2a2a" >70</text>
<line x1="35.85" y1="538.50" x2="39.25" y2="538.50" stroke="#1a1a1a" stroke-width="1"/>
<text x="32.75" y="541.00" font-size="6.4" text-anchor="end" fill="#2a2a2a" >80</text>
<line x1="35.85" y1="524.50" x2="39.25" y2="524.50" stroke="#1a1a1a" stroke-width="1"/>
<text x="32.75" y="527.00" font-size="6.4" text-anchor="end" fill="#2a2a2a" >90</text>
<line x1="35.85" y1="510.50" x2="39.25" y2="510.50" stroke="#1a1a1a" stroke-width="1"/>
<text x="32.75" y="513.00" font-size="6.4" text-anchor="end" fill="#2a2a2a" >100</text>
<line x1="35.85" y1="650.15" x2="239.25" y2="650.15" stroke="#1a1a1a" stroke-width="1.3"/>
<line x1="39.25" y1="650.50" x2="39.25" y2="653.10" stroke="#1a1a1a" stroke-width="1"/>
<text x="39.25" y="662.10" font-size="6.6" text-anchor="middle" fill="#2a2a2a" >0</text>
<line x1="71.25" y1="650.50" x2="71.25" y2="653.10" stroke="#1a1a1a" stroke-width="1"/>
<text x="71.25" y="662.10" font-size="6.6" text-anchor="middle" fill="#2a2a2a" >4</text>
<line x1="103.25" y1="650.50" x2="103.25" y2="653.10" stroke="#1a1a1a" stroke-width="1"/>
<text x="103.25" y="662.10" font-size="6.6" text-anchor="middle" fill="#2a2a2a" >8</text>
<line x1="135.25" y1="650.50" x2="135.25" y2="653.10" stroke="#1a1a1a" stroke-width="1"/>
<text x="135.25" y="662.10" font-size="6.6" text-anchor="middle" fill="#2a2a2a" >12</text>
<line x1="167.25" y1="650.50" x2="167.25" y2="653.10" stroke="#1a1a1a" stroke-width="1"/>
<text x="167.25" y="662.10" font-size="6.6" text-anchor="middle" fill="#2a2a2a" >16</text>
<line x1="199.25" y1="650.50" x2="199.25" y2="653.10" stroke="#1a1a1a" stroke-width="1"/>
<text x="199.25" y="662.10" font-size="6.6" text-anchor="middle" fill="#2a2a2a" >20</text>
<line x1="231.25" y1="650.50" x2="231.25" y2="653.10" stroke="#1a1a1a" stroke-width="1"/>
<text x="231.25" y="662.10" font-size="6.6" text-anchor="middle" fill="#2a2a2a" >24</text>
<text x="139.15" y="674.50" font-size="9.4" text-anchor="middle" fill="#2a2a2a" textLength="33.4" lengthAdjust="spacingAndGlyphs" font-weight="bold">Time (years)</text>
<text x="16.45" y="578.30" font-size="8.4" text-anchor="middle" fill="#2a2a2a" textLength="51.5" lengthAdjust="spacingAndGlyphs" font-weight="bold" transform="rotate(-90 16.45 578.30)">Overall survival (%)</text>
<path d="M39.50,510.50 L78.50,510.50 L78.50,526.50 L92.50,526.50 L92.50,546.50 L103.50,546.50 L103.50,572.50 L210.50,572.50" fill="none" stroke="#347a67" stroke-width="1.0" stroke-linejoin="miter" stroke-linecap="butt" />
<path d="M39.50,510.50 L47.50,510.50 L47.50,518.50 L69.50,518.50 L69.50,526.50 L74.50,526.50 L74.50,537.50 L156.50,537.50 L156.50,574.50 L162.50,574.50" fill="none" stroke="#bc2c58" stroke-width="1.0" stroke-linejoin="miter" stroke-linecap="butt" stroke-opacity="0.88"/>
<path d="M42.50,509.35V511.65M44.50,509.35V511.65M49.50,509.35V511.65" stroke="#347a67" stroke-width="1.0" fill="none"/>
<path d="M83.50,525.35V527.65" stroke="#347a67" stroke-width="1.0" fill="none"/>
<path d="M98.50,545.35V547.65" stroke="#347a67" stroke-width="1.0" fill="none"/>
<path d="M125.50,571.35V573.65M210.50,571.35V573.65" stroke="#347a67" stroke-width="1.0" fill="none"/>
<path d="M42.50,509.35V511.65M44.50,509.35V511.65M46.50,509.35V511.65" stroke="#bc2c58" stroke-width="1.0" fill="none"/>
<path d="M52.50,517.35V519.65M60.50,517.35V519.65" stroke="#bc2c58" stroke-width="1.0" fill="none"/>
<path d="M72.50,525.35V527.65" stroke="#bc2c58" stroke-width="1.0" fill="none"/>
<path d="M77.50,536.35V538.65M84.50,536.35V538.65M99.50,536.35V538.65M114.50,536.35V538.65M116.50,536.35V538.65M134.50,536.35V538.65M137.50,536.35V538.65" stroke="#bc2c58" stroke-width="1.0" fill="none"/>
<path d="M162.50,573.35V575.65" stroke="#bc2c58" stroke-width="1.0" fill="none"/>
<text x="99.05" y="605.50" font-size="5.6" text-anchor="middle" fill="#2a2a2a" >Events/</text>
<text x="99.05" y="612.40" font-size="5.6" text-anchor="middle" fill="#2a2a2a" >Total</text>
<text x="137.35" y="608.50" font-size="5.6" text-anchor="middle" fill="#2a2a2a" textLength="40.2" lengthAdjust="spacingAndGlyphs" >Median (95% CI)</text>
<text x="179.65" y="608.50" font-size="5.6" text-anchor="middle" fill="#2a2a2a" textLength="25" lengthAdjust="spacingAndGlyphs" >Time-Point</text>
<text x="223.45" y="608.50" font-size="5.6" text-anchor="middle" fill="#2a2a2a" textLength="40.2" lengthAdjust="spacingAndGlyphs" >KM Est (95% CI)</text>
<line x1="45.45" y1="622.30" x2="61.25" y2="622.30" stroke="#2c5247" stroke-width="1.2"/>
<text x="65.75" y="623.80" font-size="5.6" text-anchor="start" fill="#2a2a2a" >CD5+</text>
<text x="99.05" y="623.80" font-size="5.6" text-anchor="middle" fill="#2a2a2a" >3/13</text>
<text x="137.35" y="623.80" font-size="5.6" text-anchor="middle" fill="#2a2a2a" >NE (6.6-NE)</text>
<text x="179.65" y="623.80" font-size="5.6" text-anchor="middle" fill="#2a2a2a" >10 Years</text>
<text x="223.45" y="623.80" font-size="5.6" text-anchor="middle" fill="#2a2a2a" >55.6 (27.4-100.0%)</text>
<line x1="45.45" y1="631.60" x2="61.25" y2="631.60" stroke="#801c40" stroke-width="1.2"/>
<text x="65.75" y="633.20" font-size="5.6" text-anchor="start" fill="#2a2a2a" >CD5−</text>
<text x="99.05" y="633.20" font-size="5.6" text-anchor="middle" fill="#2a2a2a" >4/22</text>
<text x="137.35" y="633.20" font-size="5.6" text-anchor="middle" fill="#2a2a2a" >NE (14.7-NE)</text>
<text x="179.65" y="633.20" font-size="5.6" text-anchor="middle" fill="#2a2a2a" >10 Years</text>
<text x="223.45" y="633.20" font-size="5.6" text-anchor="middle" fill="#2a2a2a" >81.1 (63.6-100.0%)</text>
<text x="58.25" y="646.80" font-size="6.8" fill="#2a2a2a"><tspan font-style="italic">P</tspan> = .808</text>
<line x1="200.15" y1="644.60" x2="206.15" y2="644.60" stroke="#2a2a2a" stroke-width="0.8"/>
<line x1="203.15" y1="641.60" x2="203.15" y2="647.60" stroke="#2a2a2a" stroke-width="0.8"/>
<text x="209.25" y="646.70" font-size="6.4" text-anchor="start" fill="#2a2a2a" >Censor</text>
<text x="6.95" y="685.50" font-size="6.3" text-anchor="start" fill="#2a2a2a" >Number at risk</text>
<text x="6.95" y="695.80" font-size="6.6" text-anchor="start" fill="#2a2a2a" textLength="18.2" lengthAdjust="spacingAndGlyphs" >CD5+</text>
<text x="6.95" y="707.00" font-size="6.6" text-anchor="start" fill="#2a2a2a" >CD5−</text>
<text x="39.25" y="695.80" font-size="6.6" text-anchor="middle" fill="#2a2a2a" >13</text>
<text x="71.25" y="695.80" font-size="6.6" text-anchor="middle" fill="#2a2a2a" >9</text>
<text x="103.25" y="695.80" font-size="6.6" text-anchor="middle" fill="#2a2a2a" >4</text>
<text x="135.25" y="695.80" font-size="6.6" text-anchor="middle" fill="#2a2a2a" >2</text>
<text x="167.25" y="695.80" font-size="6.6" text-anchor="middle" fill="#2a2a2a" >1</text>
<text x="199.25" y="695.80" font-size="6.6" text-anchor="middle" fill="#2a2a2a" >1</text>
<text x="231.25" y="695.80" font-size="6.6" text-anchor="middle" fill="#2a2a2a" >0</text>
<text x="39.25" y="707.00" font-size="6.6" text-anchor="middle" fill="#2a2a2a" >22</text>
<text x="71.25" y="707.00" font-size="6.6" text-anchor="middle" fill="#2a2a2a" >13</text>
<text x="103.25" y="707.00" font-size="6.6" text-anchor="middle" fill="#2a2a2a" >7</text>
<text x="135.25" y="707.00" font-size="6.6" text-anchor="middle" fill="#2a2a2a" >4</text>
<text x="167.25" y="707.00" font-size="6.6" text-anchor="middle" fill="#2a2a2a" >0</text>
<line x1="304.75" y1="507.20" x2="304.75" y2="651.15" stroke="#1a1a1a" stroke-width="1.3"/>
<line x1="301.35" y1="650.50" x2="304.75" y2="650.50" stroke="#1a1a1a" stroke-width="1"/>
<text x="298.25" y="653.00" font-size="6.4" text-anchor="end" fill="#2a2a2a" >0</text>
<line x1="301.35" y1="636.50" x2="304.75" y2="636.50" stroke="#1a1a1a" stroke-width="1"/>
<text x="298.25" y="639.00" font-size="6.4" text-anchor="end" fill="#2a2a2a" >10</text>
<line x1="301.35" y1="622.50" x2="304.75" y2="622.50" stroke="#1a1a1a" stroke-width="1"/>
<text x="298.25" y="625.00" font-size="6.4" text-anchor="end" fill="#2a2a2a" >20</text>
<line x1="301.35" y1="608.50" x2="304.75" y2="608.50" stroke="#1a1a1a" stroke-width="1"/>
<text x="298.25" y="611.00" font-size="6.4" text-anchor="end" fill="#2a2a2a" >30</text>
<line x1="301.35" y1="594.50" x2="304.75" y2="594.50" stroke="#1a1a1a" stroke-width="1"/>
<text x="298.25" y="597.00" font-size="6.4" text-anchor="end" fill="#2a2a2a" >40</text>
<line x1="301.35" y1="580.50" x2="304.75" y2="580.50" stroke="#1a1a1a" stroke-width="1"/>
<text x="298.25" y="583.00" font-size="6.4" text-anchor="end" fill="#2a2a2a" >50</text>
<line x1="301.35" y1="566.50" x2="304.75" y2="566.50" stroke="#1a1a1a" stroke-width="1"/>
<text x="298.25" y="569.00" font-size="6.4" text-anchor="end" fill="#2a2a2a" >60</text>
<line x1="301.35" y1="552.50" x2="304.75" y2="552.50" stroke="#1a1a1a" stroke-width="1"/>
<text x="298.25" y="555.00" font-size="6.4" text-anchor="end" fill="#2a2a2a" >70</text>
<line x1="301.35" y1="538.50" x2="304.75" y2="538.50" stroke="#1a1a1a" stroke-width="1"/>
<text x="298.25" y="541.00" font-size="6.4" text-anchor="end" fill="#2a2a2a" >80</text>
<line x1="301.35" y1="524.50" x2="304.75" y2="524.50" stroke="#1a1a1a" stroke-width="1"/>
<text x="298.25" y="527.00" font-size="6.4" text-anchor="end" fill="#2a2a2a" >90</text>
<line x1="301.35" y1="510.50" x2="304.75" y2="510.50" stroke="#1a1a1a" stroke-width="1"/>
<text x="298.25" y="513.00" font-size="6.4" text-anchor="end" fill="#2a2a2a" >100</text>
<line x1="301.35" y1="650.15" x2="504.75" y2="650.15" stroke="#1a1a1a" stroke-width="1.3"/>
<line x1="304.75" y1="650.50" x2="304.75" y2="653.10" stroke="#1a1a1a" stroke-width="1"/>
<text x="304.75" y="662.10" font-size="6.6" text-anchor="middle" fill="#2a2a2a" >0</text>
<line x1="336.75" y1="650.50" x2="336.75" y2="653.10" stroke="#1a1a1a" stroke-width="1"/>
<text x="336.75" y="662.10" font-size="6.6" text-anchor="middle" fill="#2a2a2a" >4</text>
<line x1="368.75" y1="650.50" x2="368.75" y2="653.10" stroke="#1a1a1a" stroke-width="1"/>
<text x="368.75" y="662.10" font-size="6.6" text-anchor="middle" fill="#2a2a2a" >8</text>
<line x1="400.75" y1="650.50" x2="400.75" y2="653.10" stroke="#1a1a1a" stroke-width="1"/>
<text x="400.75" y="662.10" font-size="6.6" text-anchor="middle" fill="#2a2a2a" >12</text>
<line x1="432.75" y1="650.50" x2="432.75" y2="653.10" stroke="#1a1a1a" stroke-width="1"/>
<text x="432.75" y="662.10" font-size="6.6" text-anchor="middle" fill="#2a2a2a" >16</text>
<line x1="464.75" y1="650.50" x2="464.75" y2="653.10" stroke="#1a1a1a" stroke-width="1"/>
<text x="464.75" y="662.10" font-size="6.6" text-anchor="middle" fill="#2a2a2a" >20</text>
<line x1="496.75" y1="650.50" x2="496.75" y2="653.10" stroke="#1a1a1a" stroke-width="1"/>
<text x="496.75" y="662.10" font-size="6.6" text-anchor="middle" fill="#2a2a2a" >24</text>
<text x="404.65" y="674.50" font-size="9.4" text-anchor="middle" fill="#2a2a2a" textLength="33.4" lengthAdjust="spacingAndGlyphs" font-weight="bold">Time (years)</text>
<text x="281.55" y="578.30" font-size="8.4" text-anchor="middle" fill="#2a2a2a" textLength="77.5" lengthAdjust="spacingAndGlyphs" font-weight="bold" transform="rotate(-90 281.55 578.30)">Disease-specific survival (%)</text>
<path d="M304.50,510.50 L344.50,510.50 L344.50,526.50 L358.50,526.50 L358.50,546.50 L475.50,546.50" fill="none" stroke="#347a67" stroke-width="1.0" stroke-linejoin="miter" stroke-linecap="butt" />
<path d="M304.50,510.50 L335.50,510.50 L335.50,519.50 L340.50,519.50 L340.50,530.50 L427.50,530.50" fill="none" stroke="#bc2c58" stroke-width="1.0" stroke-linejoin="miter" stroke-linecap="butt" stroke-opacity="0.88"/>
<path d="M305.50,509.35V511.65M307.50,509.35V511.65M314.50,509.35V511.65" stroke="#347a67" stroke-width="1.0" fill="none"/>
<path d="M348.50,525.35V527.65" stroke="#347a67" stroke-width="1.0" fill="none"/>
<path d="M363.50,545.35V547.65M369.50,545.35V547.65M390.50,545.35V547.65M421.50,545.35V547.65M475.50,545.35V547.65" stroke="#347a67" stroke-width="1.0" fill="none"/>
<path d="M306.50,509.35V511.65M310.50,509.35V511.65M314.50,509.35V511.65M318.50,509.35V511.65M326.50,509.35V511.65" stroke="#bc2c58" stroke-width="1.0" fill="none"/>
<path d="M337.50,518.35V520.65" stroke="#bc2c58" stroke-width="1.0" fill="none"/>
<path d="M343.50,529.35V531.65M350.50,529.35V531.65M365.50,529.35V531.65M380.50,529.35V531.65M382.50,529.35V531.65M400.50,529.35V531.65M403.50,529.35V531.65M421.50,529.35V531.65M427.50,529.35V531.65" stroke="#bc2c58" stroke-width="1.0" fill="none"/>
<text x="364.55" y="605.50" font-size="5.6" text-anchor="middle" fill="#2a2a2a" >Events/</text>
<text x="364.55" y="612.40" font-size="5.6" text-anchor="middle" fill="#2a2a2a" >Total</text>
<text x="402.85" y="608.50" font-size="5.6" text-anchor="middle" fill="#2a2a2a" textLength="40.2" lengthAdjust="spacingAndGlyphs" >Median (95% CI)</text>
<text x="445.15" y="608.50" font-size="5.6" text-anchor="middle" fill="#2a2a2a" textLength="25" lengthAdjust="spacingAndGlyphs" >Time-Point</text>
<text x="488.95" y="608.50" font-size="5.6" text-anchor="middle" fill="#2a2a2a" textLength="40.2" lengthAdjust="spacingAndGlyphs" >KM Est (95% CI)</text>
<line x1="310.95" y1="622.30" x2="326.75" y2="622.30" stroke="#2c5247" stroke-width="1.2"/>
<text x="331.25" y="623.80" font-size="5.6" text-anchor="start" fill="#2a2a2a" >CD5+</text>
<text x="364.55" y="623.80" font-size="5.6" text-anchor="middle" fill="#2a2a2a" >2/13</text>
<text x="402.85" y="623.80" font-size="5.6" text-anchor="middle" fill="#2a2a2a" >NE (6.6-NE)</text>
<text x="445.15" y="623.80" font-size="5.6" text-anchor="middle" fill="#2a2a2a" >10 Years</text>
<text x="488.95" y="623.80" font-size="5.6" text-anchor="middle" fill="#2a2a2a" >74.1 (48.4-100.0%)</text>
<line x1="310.95" y1="631.60" x2="326.75" y2="631.60" stroke="#801c40" stroke-width="1.2"/>
<text x="331.25" y="633.20" font-size="5.6" text-anchor="start" fill="#2a2a2a" >CD5−</text>
<text x="364.55" y="633.20" font-size="5.6" text-anchor="middle" fill="#2a2a2a" >2/22</text>
<text x="402.85" y="633.20" font-size="5.6" text-anchor="middle" fill="#2a2a2a" >NE (NE-NE)</text>
<text x="445.15" y="633.20" font-size="5.6" text-anchor="middle" fill="#2a2a2a" >10 Years</text>
<text x="488.95" y="633.20" font-size="5.6" text-anchor="middle" fill="#2a2a2a" >85.6 (68.8-100.0%)</text>
<text x="323.75" y="646.80" font-size="6.8" fill="#2a2a2a"><tspan font-style="italic">P</tspan> = .786</text>
<line x1="466.25" y1="644.60" x2="472.25" y2="644.60" stroke="#2a2a2a" stroke-width="0.8"/>
<line x1="469.25" y1="641.60" x2="469.25" y2="647.60" stroke="#2a2a2a" stroke-width="0.8"/>
<text x="475.35" y="646.70" font-size="6.4" text-anchor="start" fill="#2a2a2a" >Censor</text>
<text x="272.45" y="685.50" font-size="6.3" text-anchor="start" fill="#2a2a2a" >Number at risk</text>
<text x="272.45" y="695.80" font-size="6.6" text-anchor="start" fill="#2a2a2a" textLength="18.2" lengthAdjust="spacingAndGlyphs" >CD5+</text>
<text x="272.45" y="707.00" font-size="6.6" text-anchor="start" fill="#2a2a2a" >CD5−</text>
<text x="304.75" y="695.80" font-size="6.6" text-anchor="middle" fill="#2a2a2a" >13</text>
<text x="336.75" y="695.80" font-size="6.6" text-anchor="middle" fill="#2a2a2a" >9</text>
<text x="368.75" y="695.80" font-size="6.6" text-anchor="middle" fill="#2a2a2a" >4</text>
<text x="400.75" y="695.80" font-size="6.6" text-anchor="middle" fill="#2a2a2a" >2</text>
<text x="432.75" y="695.80" font-size="6.6" text-anchor="middle" fill="#2a2a2a" >1</text>
<text x="464.75" y="695.80" font-size="6.6" text-anchor="middle" fill="#2a2a2a" >1</text>
<text x="496.75" y="695.80" font-size="6.6" text-anchor="middle" fill="#2a2a2a" >0</text>
<text x="304.75" y="707.00" font-size="6.6" text-anchor="middle" fill="#2a2a2a" >22</text>
<text x="336.75" y="707.00" font-size="6.6" text-anchor="middle" fill="#2a2a2a" >13</text>
<text x="368.75" y="707.00" font-size="6.6" text-anchor="middle" fill="#2a2a2a" >7</text>
<text x="400.75" y="707.00" font-size="6.6" text-anchor="middle" fill="#2a2a2a" >4</text>
<text x="432.75" y="707.00" font-size="6.6" text-anchor="middle" fill="#2a2a2a" >0</text>
</svg><div style="position:absolute;left:0;top:0;width:518px;height:713px;border:1px solid #585858;"></div></body></html>
